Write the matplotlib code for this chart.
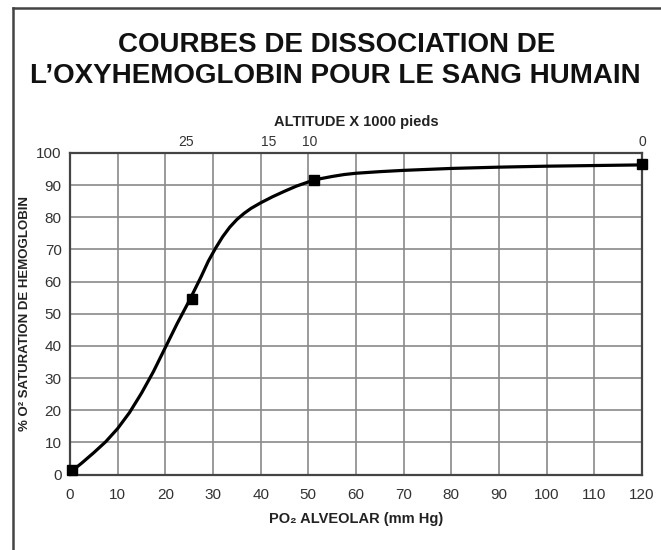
"""
Courbe de dissociation de l'oxyhemoglobine, recreated with matplotlib.
"""

import matplotlib
matplotlib.use("Agg")
import matplotlib.pyplot as plt
from matplotlib.lines import Line2D

# curve (PO2 mm Hg -> % saturation)
po2=[0.5,2.5,5,7.5,10,12.5,15,17.5,20,22.5,25,27.5,29,30.5,32,33.5,35,36.5,38,40,42.5,45,47.5,50,52.5,55,57.5,60,65,70,80,90,100,110,120]
sat=[1.2,3.6,6.8,10.2,14.3,19.3,25.3,32,39.5,47,54,61.5,66.3,70.3,73.9,76.9,79.3,81.2,82.8,84.5,86.4,88.1,89.7,91,92,92.7,93.3,93.7,94.2,94.6,95.2,95.6,95.9,96.1,96.3]

# square markers
markX=[0.5,25.5,51.2,120]
markY=[1.3,54.5,91.6,96.6]

# altitude scale on top
altPos=[24.3,41.7,50.3,120]
altLbl=["25","15","10","0"]

xTicks=list(range(0,121,10))
yTicks=list(range(0,101,10))

FONT=["Liberation Sans","DejaVu Sans"]
plt.rcParams["font.family"]=FONT

fig=plt.figure(figsize=(6.61,5.5),dpi=100)
ax=fig.add_axes([70/661,(550-474.5)/550,572/661,321.5/550])

ax.plot(po2,sat,color="black",linewidth=2.3,solid_joinstyle="round",solid_capstyle="round",zorder=3)
ax.plot(markX,markY,linestyle="none",marker="s",markersize=7,color="black",zorder=4,clip_on=False)

ax.set_xlim(0,120);ax.set_ylim(0,100)
ax.set_xticks(xTicks);ax.set_yticks(yTicks)
ax.grid(True,color="#8a8a8a",linewidth=1.2)
ax.set_axisbelow(True)
ax.tick_params(axis="both",length=0,labelsize=11,labelcolor="#333333")
ax.tick_params(axis="x",pad=10)
ax.tick_params(axis="y",pad=6)
for sp in ax.spines.values():
    sp.set_color("#444444");sp.set_linewidth(1.6)

# top altitude axis
top=ax.secondary_xaxis("top")
top.set_xticks(altPos)
top.set_xticklabels(altLbl)
top.tick_params(length=0,labelsize=10,labelcolor="#333333",pad=3)
top.spines["top"].set_visible(False)

ax.set_xlabel("PO\u2082 ALVEOLAR (mm Hg)",fontsize=10.5,fontweight="bold",labelpad=7,color="#222222")
ax.set_ylabel("% O\u00b2 SATURATION DE HEMOGLOBIN",fontsize=9.5,fontweight="bold",labelpad=4,color="#222222")

fig.text(356/661,1-122/550,"ALTITUDE X 1000 pieds",ha="center",va="center",
         fontsize=10.5,fontweight="bold",color="#222222")
fig.text(337/661,1-45/550,"COURBES DE DISSOCIATION DE",ha="center",va="center",
         fontsize=20,fontweight="bold",color="#111111")
fig.text(335/661,1-76/550,"L\u2019OXYHEMOGLOBIN POUR LE SANG HUMAIN",ha="center",va="center",
         fontsize=20,fontweight="bold",color="#111111")

# page frame (left and top edges)
fig.add_artist(Line2D([13/661,13/661],[0,1-8/550],color="#444444",linewidth=1.8))
fig.add_artist(Line2D([13/661,1],[1-8/550,1-8/550],color="#444444",linewidth=1.8))

fig.savefig("out.png",dpi=100,facecolor="white")
